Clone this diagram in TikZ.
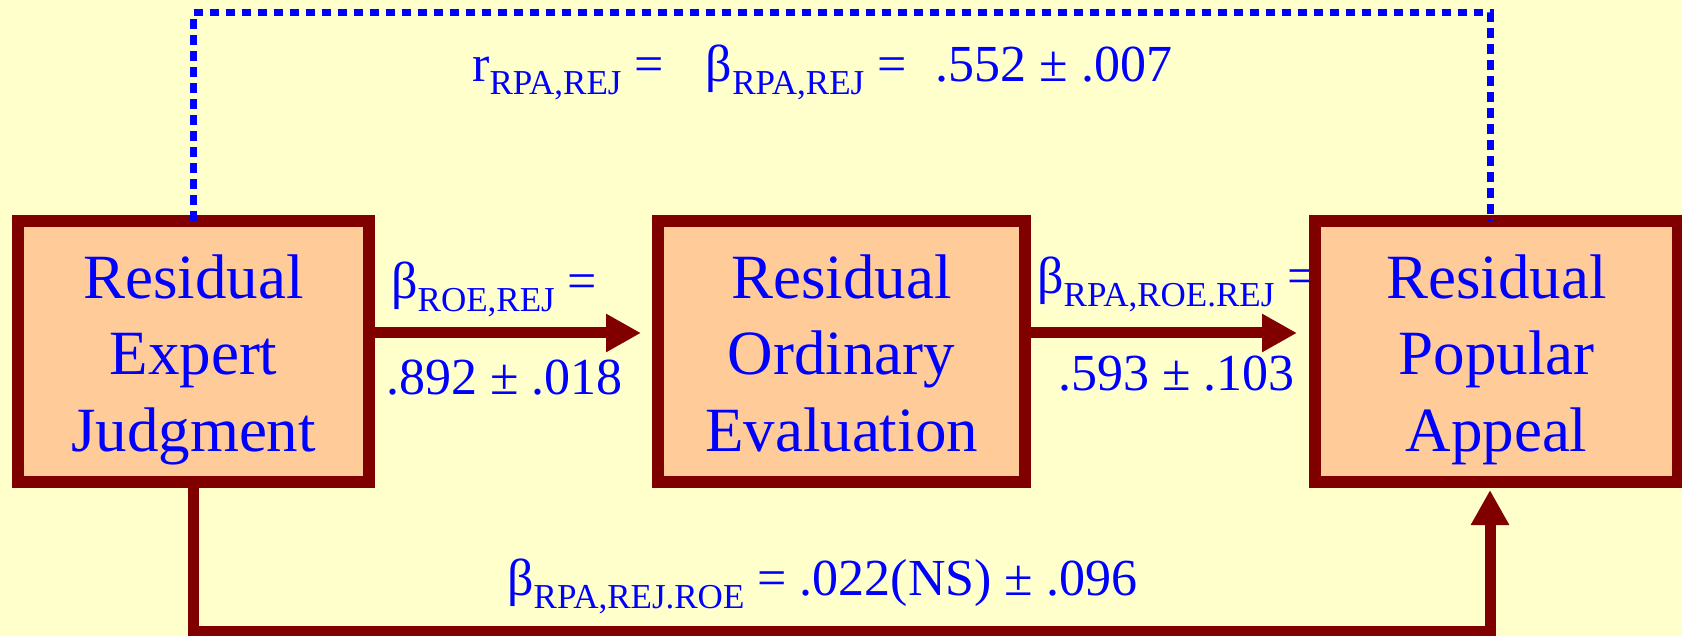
\documentclass[tikz,border=0pt]{standalone}
\usepackage{fontspec}
\setmainfont{Liberation Serif}
\usetikzlibrary{arrows.meta}
\definecolor{bgy}{RGB}{255,255,204}
\definecolor{peach}{RGB}{255,204,153}
\definecolor{dred}{RGB}{128,0,0}
\definecolor{tblue}{RGB}{0,0,255}
\newcommand\sbs[1]{\raisebox{-13pt}{\fontsize{35}{35}\selectfont #1}}
\newcommand\topst{\rule{0pt}{60pt}}
\newcommand\botst{\rule[-14pt]{0pt}{14pt}}
\begin{document}
\begin{tikzpicture}[x=1pt,y=-1pt,
  box/.style={draw=dred, fill=peach, line width=12pt, inner sep=0pt, outer sep=0pt,
    align=center, text=tblue, font=\fontsize{63}{76.5}\selectfont, minimum height=261pt},
  lbl/.style={anchor=base west, inner sep=0pt, text=tblue, font=\fontsize{52}{62}\selectfont},
  arr/.style={draw=dred, line width=11pt, -{Triangle[length=35pt,width=36pt]}},
  dots/.style={draw=tblue, line width=7pt, dash pattern=on 9.5pt off 6.5pt}]
\fill[bgy] (0,0) rectangle (1682,636);
\useasboundingbox (0,0) rectangle (1682,636);
% labels
\node[lbl] (ltop) at (472,82) {r\sbs{RPA,REJ} =\hspace{42pt}β\sbs{RPA,REJ} =\hspace{29pt}.552 ± .007};
\node[lbl] (l1) at (391,299) {β\sbs{ROE,REJ} =};
\node[lbl] (l2) at (386,394) {.892 ± .018};
\node[lbl] (r1) at (1037,294) {β\sbs{RPA,ROE.REJ} =};
\node[lbl] (r2) at (1058,390) {.593 ± .103};
\node[lbl] (bl) at (507,595) {β\sbs{RPA,REJ.ROE} = .022(NS) ± .096};
% boxes
\node[box, minimum width=351pt] (ej) at (193.5,351.5) {\topst Residual\\Expert\\Judgment\botst};
\node[box, minimum width=367pt] (oe) at (841.5,351.5) {\topst Residual\\Ordinary\\Evaluation\botst};
\node[box, minimum width=363pt] (pa) at (1496.5,351.5) {\topst Residual\\Popular\\Appeal\botst};
% helper coordinates
\coordinate (ya) at (0,333);
\coordinate (yb) at (0,631);
\coordinate (yt) at (0,13);
\coordinate (xr) at (1490,0);
% connectors
\draw[dots] (ej.north) -- (ej.north |- yt) -- (xr |- yt) -- (xr |- pa.north);
\draw[arr, shorten >=17pt] (ej.east |- ya) -- (oe.west |- ya);
\draw[arr, shorten >=18pt] (oe.east |- ya) -- (pa.west |- ya);
\draw[arr, shorten >=8pt] (ej.south) -- (ej.south |- yb) -- (xr |- yb) -- (xr |- pa.south);
\end{tikzpicture}
\end{document}
